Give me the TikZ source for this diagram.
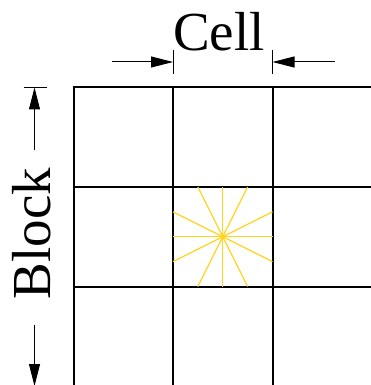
\documentclass[tikz,border=0pt]{standalone}
\usepackage{fontspec}
\setmainfont{Liberation Serif}
\usetikzlibrary{arrows.meta}
\definecolor{starcol}{RGB}{255,212,30}
\begin{document}
\begin{tikzpicture}[x=1pt,y=-1pt,
  gridline/.style={line width=2pt,black},
  tickline/.style={line width=1pt,black},
  dimarrow/.style={line width=1pt,black,-{Triangle[length=22pt,width=11pt]}},
  ray/.style={line width=1.3pt,starcol},
  label/.style={inner sep=0pt,font=\fontsize{55}{60}\selectfont}]
\useasboundingbox (0,0) rectangle (370,385);
% grid
\foreach \x in {73.5,173,272.5,372}{\draw[gridline] (\x,87.5) -- (\x,390);}
\foreach \y in {87.5,187,286.5}{\draw[gridline] (72.5,\y) -- (375,\y);}
% star
\coordinate (c) at (222.75,236.75);
\foreach \dx/\dy in {49.75/0,49.75/24.875,24.875/49.75,0/49.75,-24.875/49.75,-49.75/24.875,-49.75/0,-49.75/-24.875,-24.875/-49.75,0/-49.75,24.875/-49.75,49.75/-24.875}{
  \draw[ray] (c) -- ++(\dx,\dy);}
% Cell dimension
\coordinate (cl) at (173,62);
\coordinate (cr) at (272.5,62);
\coordinate (cls) at (112,62);
\coordinate (crs) at (335,62);
\draw[tickline] (173,50) -- (173,74);
\draw[tickline] (272.5,50) -- (272.5,74);
\draw[dimarrow] (cls) -- (cl);
\draw[dimarrow] (crs) -- (cr);
\node[label,anchor=base] (cell) at (219,51) {Cell};
% Block dimension
\coordinate (bt) at (34.5,87.5);
\coordinate (bb) at (34.5,386);
\coordinate (bts) at (34.5,150);
\coordinate (bbs) at (34.5,325);
\draw[tickline] (bt) ++(-11,0) -- ++(23,0);
\draw[tickline] (bb) ++(-11,0) -- ++(23,0);
\draw[dimarrow] (bts) -- (bt);
\draw[dimarrow] (bbs) -- (bb);
\node[label,anchor=base,rotate=90] (block) at (50,233.5) {Block};
\end{tikzpicture}
\end{document}
